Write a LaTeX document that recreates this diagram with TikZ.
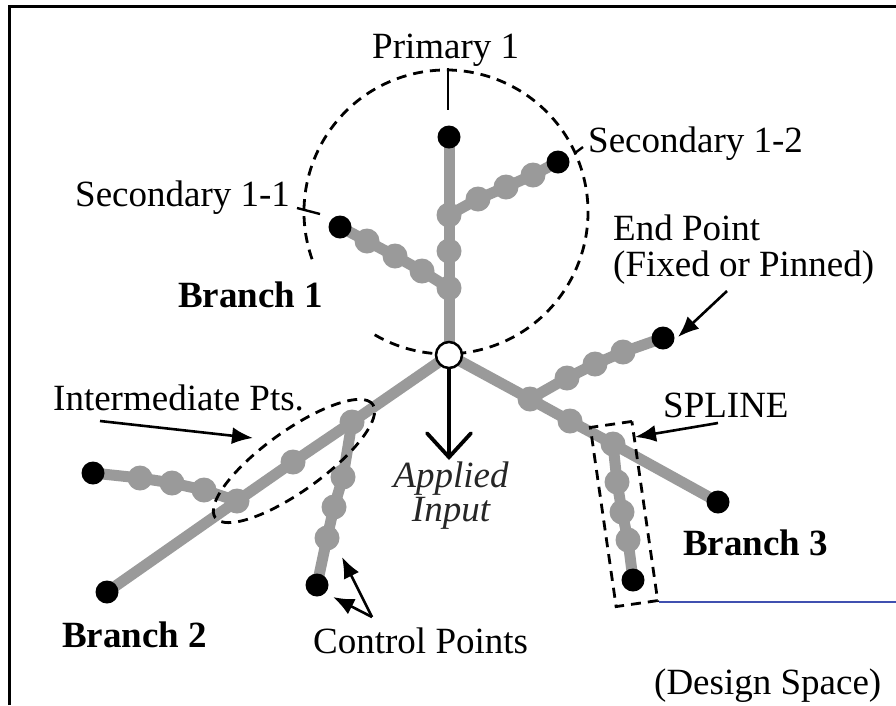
\documentclass[tikz,border=0pt]{standalone}
\usepackage{fontspec}
\setmainfont{Liberation Serif}
\usetikzlibrary{arrows.meta,shapes.geometric}
\definecolor{bgray}{HTML}{9A9A9A}
\definecolor{dblue}{HTML}{4050B0}
\newcommand\fsz{\fontsize{37}{40}\selectfont}
\pgfdeclarelayer{bg}
\pgfdeclarelayer{paper}
\pgfsetlayers{paper,bg,main}
\begin{document}
\begin{tikzpicture}[x=1pt,y=-1pt,
  branch/.style={draw=bgray,line width=11pt,line cap=round,line join=round},
  bead/.style={circle,fill=bgray,minimum size=25pt,inner sep=0pt},
  endpt/.style={circle,fill=black,minimum size=23pt,inner sep=0pt},
  hubst/.style={circle,draw=black,fill=white,line width=2.5pt,minimum size=26pt,inner sep=0pt},
  lbl/.style={anchor=base west,inner sep=0pt,font=\fsz},
  blbl/.style={anchor=base west,inner sep=0pt,font=\fsz\bfseries},
  dashln/.style={draw=black,line width=2.8pt,dash pattern=on 10pt off 7pt},
  ptr/.style={draw=black,line width=2.6pt,-{Latex[length=21pt,width=17pt]}},
  leader/.style={draw=black,line width=2.4pt},
]
\useasboundingbox (0,0) rectangle (896,705);
\begin{pgfonlayer}{paper}
\fill[white] (0,0) rectangle (896,705);
\end{pgfonlayer}

% frame
\coordinate (fr1) at (9,705);
\coordinate (fr2) at (9,6);
\coordinate (fr3) at (896,6);
\draw[line width=3pt] (fr1) -- (fr2) -- (fr3);

% hub
\node[hubst] (H) at (449,355) {};
% primary
\node[bead] (pa1) at (449,288) {};
\node[bead] (pa2) at (449,251) {};
\node[bead] (pa3) at (449,215) {};
\node[endpt] (pe) at (449,137) {};
% secondary 1-2
\node[bead] (sa1) at (478,199) {};
\node[bead] (sa2) at (506,187) {};
\node[bead] (sa3) at (533,175) {};
\node[endpt] (se) at (558,162) {};
% secondary 1-1
\node[bead] (ta1) at (422,271) {};
\node[bead] (ta2) at (395,256) {};
\node[bead] (ta3) at (367,241) {};
\node[endpt] (te) at (340,227) {};
% branch 2
\node[bead] (ca1) at (352,422) {};
\node[bead] (ca2) at (293,462) {};
\node[bead] (ca3) at (237,501) {};
\node[endpt] (ce) at (107,592) {};
\node[bead] (la1) at (204,490) {};
\node[bead] (la2) at (172,483) {};
\node[bead] (la3) at (140,478) {};
\node[endpt] (le) at (93,473) {};
\node[bead] (da1) at (343,477) {};
\node[bead] (da2) at (334,507) {};
\node[bead] (da3) at (327,538) {};
\node[endpt] (de) at (317,585) {};
% branch 3
\node[bead] (ea1) at (530,399) {};
\node[bead] (ea2) at (570,421) {};
\node[bead] (ea3) at (613,444) {};
\node[endpt] (ee) at (718,502) {};
\node[bead] (ua1) at (567,378) {};
\node[bead] (ua2) at (595,364) {};
\node[bead] (ua3) at (623,352) {};
\node[endpt] (ue) at (663,338) {};
\node[bead] (va1) at (617,482) {};
\node[bead] (va2) at (622,512) {};
\node[bead] (va3) at (628,540) {};
\node[endpt] (ve) at (633,580) {};

\begin{pgfonlayer}{bg}
  \coordinate (cc) at (446,212);
  \draw[dashln] (cc) ++(160.6:142) arc[start angle=160.6,end angle=482,radius=142];
  \draw[branch] (H.center) -- (pa1.center) -- (pa2.center) -- (pa3.center) -- (pe.center);
  \draw[branch] (pa3.center) -- (sa1.center) -- (sa2.center) -- (sa3.center) -- (se.center);
  \draw[branch] (pa1.center) -- (ta1.center) -- (ta2.center) -- (ta3.center) -- (te.center);
  \draw[branch] (H.center) -- (ca1.center) -- (ca2.center) -- (ca3.center) -- (ce.center);
  \draw[branch] (ca3.center) -- (la1.center) -- (la2.center) -- (la3.center) -- (le.center);
  \draw[branch] (ca1.center) -- (da1.center) -- (da2.center) -- (da3.center) -- (de.center);
  \draw[branch] (H.center) -- (ea1.center) -- (ea2.center) -- (ea3.center) -- (ee.center);
  \draw[branch] (ea1.center) -- (ua1.center) -- (ua2.center) -- (ua3.center) -- (ue.center);
  \draw[branch] (ea3.center) -- (va1.center) -- (va2.center) -- (va3.center) -- (ve.center);
\end{pgfonlayer}

% dashed enclosures
\node[ellipse,dashln,rotate=35.7,minimum width=194pt,minimum height=60pt,inner sep=0pt] (iell) at (294,461) {};
\node[rectangle,dashln,rotate=8.2,minimum width=42pt,minimum height=181pt,inner sep=0pt] (spl) at (624,514) {};

% blue line
\coordinate (bl) at (896,599);
\draw[dblue,line width=2pt] (spl.south east) -- (spl.south east -| bl);

% labels
\node[lbl] (lp1) at (372,58) {Primary 1};
\node[lbl] (ls12) at (588,152) {Secondary 1-2};
\node[lbl] (ls11) at (75,206) {Secondary 1-1};
\node[blbl] (lb1) at (178,307) {Branch 1};
\node[lbl] (lep1) at (613,240) {End Point};
\node[lbl] (lep2) at (613,276) {(Fixed or Pinned)};
\node[lbl] (lint) at (53,410) {Intermediate Pts.};
\node[lbl] (lspl) at (663,417) {SPLINE};
\node[anchor=base,inner sep=0pt,font=\fsz\itshape,text=black!85] (lap1) at (451,487) {Applied};
\node[anchor=base,inner sep=0pt,font=\fsz\itshape,text=black!85] (lap2) at (451,521) {Input};
\node[blbl] (lb3) at (683,555) {Branch 3};
\node[blbl] (lb2) at (62,647) {Branch 2};
\node[lbl] (lcp) at (313,653) {Control Points};
\node[lbl] (lds) at (654,694) {(Design Space)};

% leaders
\coordinate (t1a) at (448,68);
\coordinate (t1b) at (448,110);
\draw[leader] (t1a) -- (t1b);
\coordinate (t2a) at (575,153);
\coordinate (t2b) at (583,147);
\draw[leader] (t2a) -- (t2b);
\coordinate (t3a) at (297,208);
\coordinate (t3b) at (320,214);
\draw[leader] (t3a) -- (t3b);

% arrows
\coordinate (ia0) at (100,421);
\coordinate (ia1) at (253,438);
\draw[ptr] (ia0) -- (ia1);
\coordinate (ep0) at (727,291);
\coordinate (ep1) at (678,337);
\draw[ptr] (ep0) -- (ep1);
\coordinate (sp0) at (718,423);
\coordinate (sp1) at (635,437);
\draw[ptr] (sp0) -- (sp1);
\coordinate (cp0) at (372,617);
\coordinate (cp1) at (342,557);
\coordinate (cp2) at (333,597);
\draw[ptr] (cp0) -- (cp1);
\draw[ptr] (cp0) -- (cp2);
\coordinate (ai1) at (449,460);
\draw[line width=3.8pt,line cap=round,-{Straight Barb[length=24pt,width=44pt,line cap=round]}] (H.south) -- (ai1);
\end{tikzpicture}
\end{document}
